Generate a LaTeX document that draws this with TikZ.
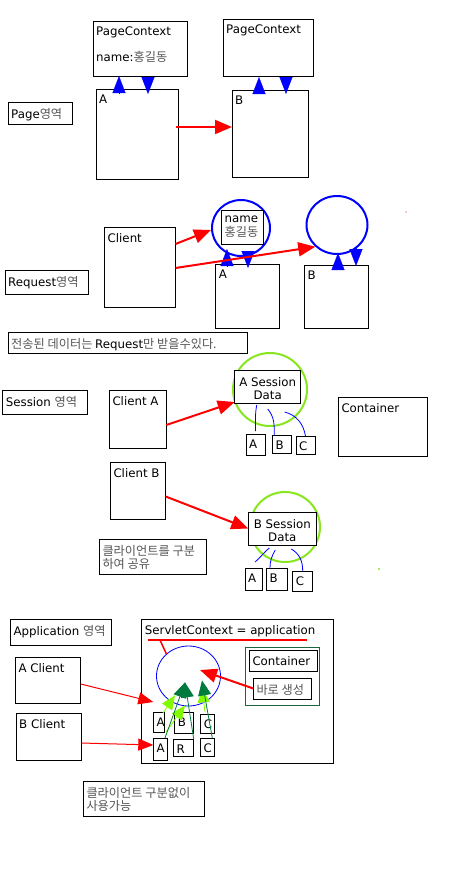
\documentclass[tikz,border=0pt]{standalone}
\usepackage{fontspec}
\setmainfont{DejaVu Sans}
\newfontfamily\krfont{Noto Sans CJK KR}
\usetikzlibrary{arrows.meta,shapes.geometric}
\definecolor{krgray}{RGB}{85,85,85}
\definecolor{sesgreen}{RGB}{135,230,30}
\definecolor{lgreen}{RGB}{130,250,0}
\definecolor{dkgreen}{RGB}{0,122,61}
\definecolor{boxgreen}{RGB}{30,100,60}
\newcommand{\kr}[1]{{\krfont\fontsize{12.2}{13.5}\selectfont\color{krgray}#1}}

\begin{document}
\begin{tikzpicture}[x=1pt,y=-1pt,
  font=\fontsize{11.8}{13.5}\selectfont,
  pane/.style={draw, line width=1pt, fill=white, anchor=north west, inner sep=0pt, outer sep=0pt},
  tag/.style={anchor=north west, inner sep=0pt, xshift=3pt, yshift=-6pt, align=left},
  mid/.style={anchor=north, inner sep=0pt, yshift=-7pt, align=center},
  ring/.style={ellipse, draw=blue, line width=2pt, inner sep=0pt},
  halo/.style={ellipse, draw=sesgreen, line width=2pt, inner sep=0pt},
  bluetip/.style={blue, line width=0.3pt, -{Triangle[length=17pt,width=13pt]}},
  redarr/.style={red, line width=2pt, -{Triangle[length=17pt,width=14pt]}},
  thinarr/.style={red, line width=1pt, -{Triangle[length=15pt,width=12pt]}},
  wire/.style={blue, line width=0.8pt},
  limearr/.style={lgreen, line width=0.8pt, -{Triangle[length=14pt,width=12pt]}},
  darkarr/.style={dkgreen, line width=0.8pt, -{Triangle[length=15pt,width=13pt]}}]
\useasboundingbox (0,0) rectangle (450,870);

% Page
\node[pane, minimum width=94pt, minimum height=55pt, label={[tag]north west:PageContext\\[12pt]name:\kr{홍길동}}] (pcA) at (93,21) {};
\node[pane, minimum width=90pt, minimum height=57pt, label={[tag]north west:PageContext}] (pcB) at (223,19) {};
\node[pane, minimum width=82pt, minimum height=90pt, label={[tag]north west:A}] (pA) at (96,89) {};
\node[pane, minimum width=76pt, minimum height=87pt, label={[tag]north west:B}] (pB) at (232,90) {};
\node[pane, minimum width=64pt, minimum height=22pt, label={[tag]north west:Page\kr{영역}}] (pageTag) at (8,102) {};
\draw[bluetip] ([xshift=-18pt,yshift=-4pt]pA.north) -- ([xshift=-21pt]pcA.south);
\draw[bluetip] ([xshift=8pt,yshift=-1pt]pcA.south) -- ([xshift=11pt,yshift=-5pt]pA.north);
\draw[bluetip] ([xshift=-11pt,yshift=-3pt]pB.north) -- ([xshift=-9pt,yshift=-1pt]pcB.south);
\draw[bluetip] ([xshift=18pt,yshift=-1pt]pcB.south) -- ([xshift=16pt,yshift=-4pt]pB.north);
\draw[redarr] ([xshift=-2pt,yshift=7pt]pA.east) -- ([yshift=6.5pt]pB.west);

% Request
\node[pane, minimum width=71pt, minimum height=80pt, label={[tag]north west:Client}] (client) at (104.5,227) {};
\node[pane, minimum width=83pt, minimum height=24pt, label={[tag]north west:Request\kr{영역}}] (reqTag) at (5,270) {};
\node[ring, minimum width=58pt, minimum height=56pt] (r1) at (241,228) {};
\node[pane, minimum width=42pt, minimum height=34pt, label={[tag]north west:name\\\kr{홍길동}}] (nameBox) at (221.5,210) {};
\node[ring, minimum width=61pt, minimum height=58pt] (r2) at (337,225) {};
\node[pane, minimum width=63.6pt, minimum height=64pt, label={[tag]north west:A}] (rA) at (215.7,264) {};
\node[pane, minimum width=64pt, minimum height=63pt, label={[tag]north west:B}] (rB) at (304.3,265) {};
\draw[bluetip] ([xshift=-20.5pt,yshift=-2pt]rA.north) -- ([xshift=-14pt,yshift=8pt]r1.south);
\draw[bluetip] ([xshift=7pt,yshift=6pt]r1.south) -- ([xshift=0.5pt,yshift=-4pt]rA.north);
\draw[bluetip] ([xshift=1.7pt,yshift=-4pt]rB.north) -- ([xshift=1pt,yshift=2pt]r2.south);
\draw[bluetip] ([xshift=19pt,yshift=7pt]r2.south) -- ([xshift=19.7pt,yshift=-1pt]rB.north);
\draw[redarr] ([yshift=23pt]client.east) -- ([yshift=-2pt]r1.west);
\draw[redarr] ([yshift=-1pt]client.east) -- (r2.225);
\fill[red!45] (406,212) circle (0.8pt);
\node[pane, minimum width=239pt, minimum height=21pt, label={[tag]north west:\kr{전송된 데이터는 }Request\kr{만 받을수있다.}}] (reqNote) at (8,332) {};

% Session
\node[pane, minimum width=84.6pt, minimum height=24pt, label={[tag]north west:Session \kr{영역}}] (sesTag) at (2.7,390) {};
\node[pane, minimum width=57pt, minimum height=58pt, label={[tag]north west:Client A}] (cliA) at (109.3,390) {};
\node[halo, minimum width=74pt, minimum height=73pt] (haloA) at (270,389.5) {};
\node[pane, minimum width=66pt, minimum height=33pt, label={[mid]north:A Session\\Data}] (sesA) at (234.7,370) {};
\node[pane, minimum width=19pt, minimum height=21pt, label={[tag]north west:A}] (a1) at (246,434) {};
\node[pane, minimum width=19pt, minimum height=18pt, label={[tag]north west:B}] (b1) at (272.3,435) {};
\node[pane, minimum width=19pt, minimum height=18pt, label={[tag]north west:C}] (c1) at (296,436) {};
\draw[wire] ([xshift=-11pt,yshift=-2pt]sesA.south) to[out=-100,in=90] ([yshift=3pt]a1.north);
\draw[wire] ([yshift=-6pt]sesA.south) to[out=-50,in=90] ([xshift=2pt]b1.north west);
\draw[wire] ([xshift=17pt,yshift=-9pt]sesA.south) to[out=-15,in=100] (c1.north);
\node[pane, minimum width=89.4pt, minimum height=59pt, label={[tag]north west:Container}] (container) at (338.3,397) {};
\node[pane, minimum width=55.4pt, minimum height=57pt, label={[tag]north west:Client B}] (cliB) at (110.3,462) {};
\node[halo, minimum width=70pt, minimum height=70pt] (haloB) at (285,527) {};
\node[pane, minimum width=68pt, minimum height=33pt, label={[mid]north:B Session\\Data}] (sesB) at (248.3,512) {};
\node[pane, minimum width=17pt, minimum height=22pt, label={[tag]north west:A}] (a2) at (245,568) {};
\node[pane, minimum width=21pt, minimum height=22pt, label={[tag]north west:B}] (b2) at (266.3,568) {};
\node[pane, minimum width=20pt, minimum height=20pt, label={[tag]north west:C}] (c2) at (292.7,571) {};
\draw[wire] ([xshift=-13pt,yshift=-3pt]sesB.south) to[out=-140,in=40] ([xshift=1.5pt,yshift=6pt]a2.north);
\draw[wire] ([xshift=-7pt,yshift=-5pt]sesB.south) to[out=-120,in=90] ([xshift=3.7pt]b2.north west);
\draw[wire] ([xshift=9pt,yshift=-4pt]sesB.south) to[out=-30,in=90] (c2.north);
\draw[redarr] ([yshift=-6pt]cliA.east) -- ([yshift=1pt]sesA.south west);
\draw[redarr] ([yshift=-6pt]cliB.east) -- (sesB.west);
\node[pane, minimum width=107pt, minimum height=35pt, label={[tag]north west:\kr{클라이언트를 구분}\\\kr{하여 공유}}] (sesNote) at (99.3,539) {};
\fill[sesgreen] (379,569) circle (1.2pt);

% Application
\node[pane, minimum width=100.7pt, minimum height=26pt, label={[tag]north west:Application \kr{영역}}] (appTag) at (10.3,619) {};
\node[pane, minimum width=65.4pt, minimum height=46pt, label={[tag]north west:A Client}] (aCli) at (15.3,657) {};
\node[pane, minimum width=65.3pt, minimum height=47pt, label={[tag]north west:B Client}] (bCli) at (16,713) {};
\node[pane, minimum width=192pt, minimum height=144pt, label={[tag]north west:ServletContext = application}] (servlet) at (141.7,619) {};
\coordinate (ulL) at (148,640);
\coordinate (ulR) at (307,640);
\node[ellipse, draw=blue, line width=0.8pt, inner sep=0pt, minimum width=64pt, minimum height=60pt] (pool) at (188.5,676) {};
\draw[red, line width=1.5pt] (ulL) -- (ulR);
\draw[red, line width=1.5pt] ([xshift=12pt]ulL) -- (pool.135);
\node[pane, draw=boxgreen, minimum width=73.7pt, minimum height=58pt] (contOuter) at (245.3,647) {};
\node[pane, minimum width=68.4pt, minimum height=21pt, label={[tag]north west:Container}] (contInner) at (249.3,650) {};
\node[pane, minimum width=58pt, minimum height=21pt, label={[tag]north west:\kr{바로 생성}}] (mkBox) at (253.3,678) {};
\draw[redarr] (mkBox.west) -- ([xshift=11.5pt,yshift=6pt]pool.center);
\node[pane, minimum width=11.4pt, minimum height=20pt, label={[tag]north west:A}] (a3) at (153.3,712) {};
\node[pane, minimum width=19pt, minimum height=21pt, label={[tag]north west:B}] (b3) at (174.7,712) {};
\node[pane, minimum width=13.6pt, minimum height=19pt, label={[tag]north west:C}] (c3) at (200.7,714) {};
\node[pane, minimum width=13.7pt, minimum height=22pt, label={[tag]north west:A}] (a4) at (153.3,738) {};
\node[pane, minimum width=20.4pt, minimum height=17pt, label={[tag]north west:R}] (b4) at (173.3,739) {};
\node[pane, minimum width=14pt, minimum height=18pt, label={[tag]north west:C}] (c4) at (200.3,738) {};
\draw[thinarr] ([yshift=-4pt]aCli.east) -- ([yshift=10pt]a3.north west);
\draw[thinarr] ([yshift=-6.5pt]bCli.east) -- ([yshift=4pt]a4.west);
\draw[limearr] ([xshift=4pt,yshift=-1pt]a3.north) -- ([xshift=-13.5pt,yshift=11pt]pool.south);
\draw[limearr] ([xshift=-1pt,yshift=6pt]a4.north east) -- ([xshift=-3.5pt,yshift=1pt]pool.south);
\draw[limearr] ([xshift=-2.5pt,yshift=2pt]c3.north) -- ([xshift=13.5pt,yshift=18pt]pool.south);
\draw[darkarr] ([xshift=-2pt]a4.north east) -- ([xshift=-3.5pt,yshift=24pt]pool.south);
\draw[darkarr] (b4.north east) -- ([xshift=-3.5pt,yshift=24pt]pool.south);
\draw[darkarr] ([xshift=-2pt]c4.north east) -- ([xshift=13.5pt,yshift=26pt]pool.south);
\node[pane, minimum width=121pt, minimum height=35pt, label={[tag]north west:\kr{클라이언트 구분없이}\\\kr{사용가능}}] (appNote) at (83.3,781) {};
\end{tikzpicture}
\end{document}
